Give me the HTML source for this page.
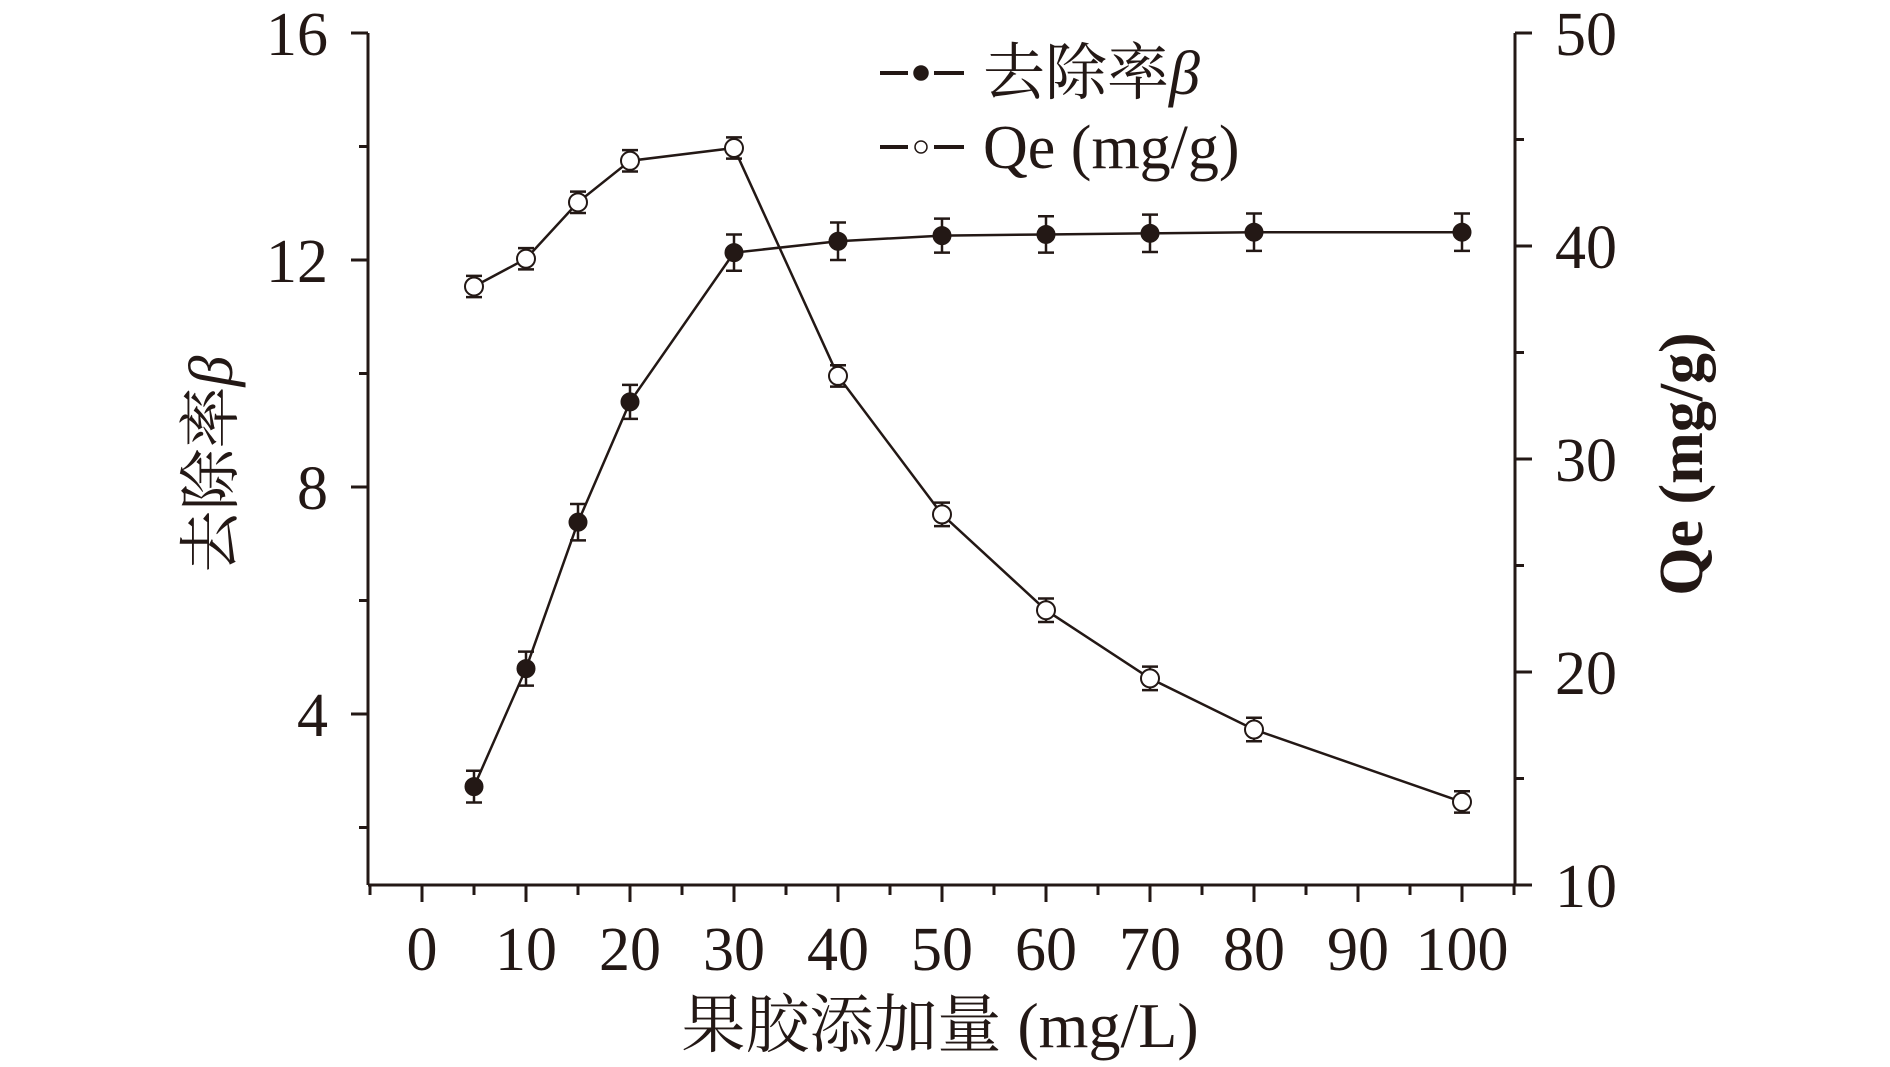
<!DOCTYPE html>
<html><head><meta charset="utf-8"><style>
html,body{margin:0;padding:0;background:#fff;}
svg{display:block;}
text{font-family:"Liberation Serif","Noto Serif CJK SC",serif;fill:#231815;}
</style></head><body>
<svg id="chart" width="1890" height="1067" viewBox="0 0 1890 1067" xmlns="http://www.w3.org/2000/svg"></svg>
<script>
const xCats=[5,10,15,20,30,40,50,60,70,80,100];
const removal=[2.72,4.8,7.38,9.5,12.13,12.33,12.43,12.45,12.47,12.49,12.49];
const removalErr=[0.28,0.3,0.32,0.3,0.32,0.33,0.3,0.32,0.33,0.33,0.33];
const qe=[38.1,39.4,42.05,44.0,44.6,33.9,27.4,22.9,19.7,17.3,13.9];
const qeErr=[0.5,0.5,0.5,0.5,0.5,0.5,0.55,0.55,0.55,0.55,0.5];
const xTicks=[0,10,20,30,40,50,60,70,80,90,100];
const leftTicks=[4,8,12,16];
const rightTicks=[10,20,30,40,50];

const NS="http://www.w3.org/2000/svg";
const svg=document.getElementById('chart');
const X=v=>422+v*10.4;
const YL=v=>33+(16-v)*56.75;
const YR=v=>33+(50-v)*21.3;
function mk(tag,attrs,parent){const e=document.createElementNS(NS,tag);for(const k in attrs)e.setAttribute(k,attrs[k]);(parent||svg).appendChild(e);return e;}
const axTop=33,axBot=885,axL=368,axR=1515;

const axes=mk('g',{stroke:'#231815','stroke-width':3,fill:'none'});


mk('line',{x1:axL,y1:axTop,x2:axL,y2:axBot},axes);
mk('line',{x1:axR,y1:axTop,x2:axR,y2:axBot},axes);
mk('line',{x1:axL,y1:axBot,x2:axR+15,y2:axBot},axes);
for(let v=-5;v<=105;v+=5){const x=X(v);if(x<axL-1||x>axR)continue;const major=v%10===0&&v>=0&&v<=100;mk('line',{x1:x,y1:axBot,x2:x,y2:axBot+(major?17:10)},axes);}
xTicks.forEach(v=>{const t=mk('text',{x:X(v),y:970,'text-anchor':'middle','font-size':62});t.textContent=v;

});
for(let v=2;v<=16;v+=2){const major=v%4===0;mk('line',{x1:axL,y1:YL(v),x2:axL-(major?17:9),y2:YL(v)},axes);}
leftTicks.forEach(v=>{const t=mk('text',{x:328,y:YL(v)+22,'text-anchor':'end','font-size':62});t.textContent=v;

});
for(let v=10;v<=50;v+=5){const major=v%10===0;mk('line',{x1:axR,y1:YR(v),x2:axR+(major?17:9),y2:YR(v)},axes);}
rightTicks.forEach(v=>{const t=mk('text',{x:1555,y:YR(v)+22,'text-anchor':'start','font-size':62});t.textContent=v;

});

function series(vals,errs,Y,filled,name){
  const g=mk('g',{});
  
  
  mk('polyline',{points:xCats.map((c,i)=>X(c)+','+Y(vals[i])).join(' '),fill:'none',stroke:'#231815','stroke-width':2.5},g);
  xCats.forEach((c,i)=>{
    const x=X(c),y1=Y(vals[i]+errs[i]),y2=Y(vals[i]-errs[i]);
    const eb=mk('path',{d:`M${x},${y1}V${y2}M${x-8},${y1}H${x+8}M${x-8},${y2}H${x+8}`,stroke:'#231815','stroke-width':2.5,fill:'none'},g);
    
    
    const p=mk('circle',{cx:x,cy:Y(vals[i]),r:9,fill:filled?'#231815':'#fff',stroke:'#231815','stroke-width':filled?1:2},g);
    
    
  });
}
series(qe,qeErr,YR,false,'qe-series');
series(removal,removalErr,YL,true,'removal-series');

const lg=mk('g',{});


[[73,true,'去除率'],[147,false,'Qe (mg/g)']].forEach(([y,f,label])=>{
  const e=mk('g',{},lg);
  
  
  mk('line',{x1:880,y1:y,x2:908,y2:y,stroke:'#231815','stroke-width':4},e);
  mk('line',{x1:934,y1:y,x2:964,y2:y,stroke:'#231815','stroke-width':4},e);
  mk('circle',{cx:921,cy:y,r:f?7:6,fill:f?'#231815':'#fff',stroke:'#231815','stroke-width':1.5},e);
  const t=mk('text',{x:983,y:y+21,'font-size':62},e);
  t.textContent=label;
  if(f){const b=mk('tspan',{'font-style':'italic'},t);b.textContent='β';}
});

const xt=mk('text',{x:940,y:1047,'text-anchor':'middle','font-size':64});
xt.textContent='果胶添加量 (mg/L)';


const yl=mk('text',{x:0,y:0,'text-anchor':'middle','font-size':62,transform:'translate(232,464) rotate(-90)'});
yl.textContent='去除率';
const yb=mk('tspan',{'font-style':'italic'},yl);yb.textContent='β';


const yr=mk('text',{x:0,y:0,'text-anchor':'middle','font-size':62,'font-weight':'bold',transform:'translate(1702,464) rotate(-90)'});
yr.textContent='Qe (mg/g)';


</script>
</body></html>
